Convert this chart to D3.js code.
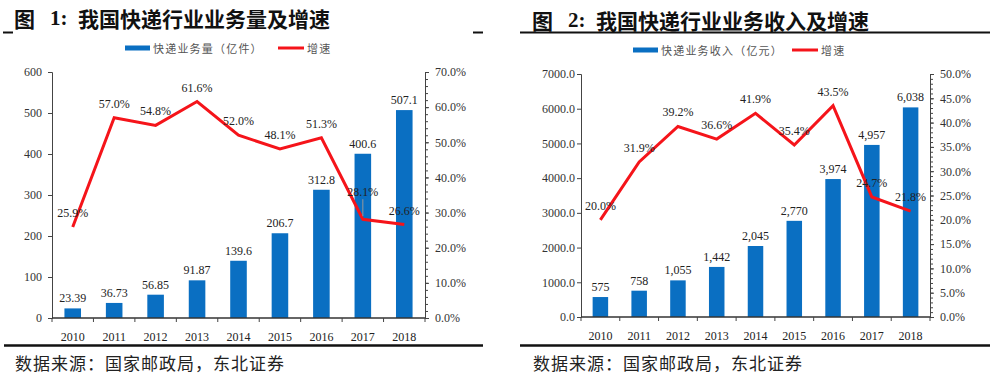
<!DOCTYPE html>
<html>
<head>
<meta charset="utf-8">
<script src="https://cdn.jsdelivr.net/npm/d3@7"></script>
<style>
  body { margin: 0; background: #fff; }
  svg { display: block; }
</style>
</head>
<body>
<svg id="chart"></svg>
<script>
// 数据
let years = ['2010', '2011', '2012', '2013', '2014', '2015', '2016', '2017', '2018'];
let volume = [23.39, 36.73, 56.85, 91.87, 139.6, 206.7, 312.8, 400.6, 507.1];
let volumeGrowth = [25.9, 57.0, 54.8, 61.6, 52.0, 48.1, 51.3, 28.1, 26.6];
let revenue = [575, 758, 1055, 1442, 2045, 2770, 3974, 4957, 6038];
let revenueGrowth = [20.0, 31.9, 39.2, 36.6, 41.9, 35.4, 43.5, 24.7, 21.8];
// 刻度
let volumeTicks = [0, 100, 200, 300, 400, 500, 600];
let volumePctTicks = [0, 10, 20, 30, 40, 50, 60, 70];
let revenueTicks = [0, 1000, 2000, 3000, 4000, 5000, 6000, 7000];
let revenuePctTicks = [0, 5, 10, 15, 20, 25, 30, 35, 40, 45, 50];

let W = 1004, H = 373;
let blue = '#0a6fc2', red = '#f5141a';
let serif = '"Liberation Serif", "DejaVu Serif", serif';
let cjk = '"Noto Sans CJK SC", sans-serif';

let svg = d3.select('#chart').attr('width', W).attr('height', H);
svg.append('rect').attr('width', W).attr('height', H).attr('fill', '#fff');

function drawChart(o) {
    let g = svg.append('g');

    // 标题
    let t = g.append('text').attr('y', o.titleY).attr('dominant-baseline', 'central')
        .attr('font-size', 21).attr('font-weight', 'bold').attr('fill', '#111');
    t.append('tspan').attr('x', o.titleX).attr('font-family', cjk).text('图');
    t.append('tspan').attr('x', o.titleX + 36).attr('font-family', serif).text(o.num + ':');
    t.append('tspan').attr('x', o.titleX + 64).attr('font-family', cjk).text(o.title);

    // 上下分隔线
    o.topRules.forEach(r => {
        g.append('line').attr('x1', r[0]).attr('x2', r[1]).attr('y1', 32.5).attr('y2', 32.5)
            .attr('stroke', '#111').attr('stroke-width', 2);
    });
    g.append('line').attr('x1', o.ruleX[0]).attr('x2', o.ruleX[1]).attr('y1', 345.5).attr('y2', 345.5)
        .attr('stroke', '#111').attr('stroke-width', 2.5);
    g.append('text').attr('x', o.titleX + 1).attr('y', 362).attr('dominant-baseline', 'central')
        .attr('font-family', cjk).attr('font-size', 17).attr('letter-spacing', 1).attr('fill', '#222')
        .text('数据来源：国家邮政局，东北证券');

    // 图例
    let lg = g.append('g').attr('font-family', cjk).attr('font-size', 11).attr('fill', '#555');
    lg.append('rect').attr('x', o.legendX).attr('y', o.legendY - 2.5).attr('width', 25).attr('height', 5).attr('fill', blue);
    lg.append('text').attr('x', o.legendX + 28).attr('y', o.legendY).attr('dominant-baseline', 'central')
        .attr('letter-spacing', 1.2).text(o.barName);
    lg.append('line').attr('x1', o.legendX2).attr('x2', o.legendX2 + 26).attr('y1', o.legendY).attr('y2', o.legendY)
        .attr('stroke', red).attr('stroke-width', 3);
    lg.append('text').attr('x', o.legendX2 + 29).attr('y', o.legendY).attr('dominant-baseline', 'central')
        .attr('letter-spacing', 1.2).text('增速');

    // 比例尺
    let x = d3.scaleBand().domain(years).range([o.x0, o.x1]).paddingInner(0.6).paddingOuter(0.3);
    let y = d3.scaleLinear().domain([0, d3.max(o.ticks)]).range([o.bottom, o.top]);
    let y2 = d3.scaleLinear().domain([0, d3.max(o.pctTicks)]).range([o.bottom, o.top]);
    let step = x.step();

    // 柱状
    g.selectAll('rect.bar').data(o.values).enter().append('rect').attr('class', 'bar')
        .attr('x', (d, i) => x(years[i]))
        .attr('y', d => y(d))
        .attr('width', x.bandwidth())
        .attr('height', d => o.bottom - y(d))
        .attr('fill', blue);
    g.selectAll('text.barlab').data(o.values).enter().append('text').attr('class', 'barlab')
        .attr('x', (d, i) => x(years[i]) + x.bandwidth() / 2)
        .attr('y', d => y(d) - 10)
        .attr('text-anchor', 'middle').attr('dominant-baseline', 'central')
        .attr('font-family', serif).attr('font-size', 12).attr('fill', '#222')
        .text(d => o.barFmt(d));

    // 左轴
    let axL = g.append('g').attr('transform', 'translate(' + o.x0 + ',0)')
        .call(d3.axisLeft(y).tickValues(o.ticks).tickFormat(o.tickFmt).tickSizeOuter(0).tickSize(4).tickPadding(o.padL));
    // 右轴
    let minor = d3.range(0, d3.max(o.pctTicks) + 0.001, o.minorStep);
    g.append('g').attr('transform', 'translate(' + o.x1 + ',0)')
        .call(d3.axisRight(y2).tickValues(minor).tickFormat('').tickSizeOuter(0).tickSize(3));
    let axR = g.append('g').attr('transform', 'translate(' + o.x1 + ',0)')
        .call(d3.axisRight(y2).tickValues(o.pctTicks).tickFormat(d => d3.format('.1f')(d) + '%').tickSizeOuter(0).tickSize(4).tickPadding(o.padR));
    [axL, axR].forEach(a => {
        a.select('.domain').attr('stroke', '#444');
        a.selectAll('.tick line').attr('stroke', '#444');
        a.selectAll('text').attr('font-family', serif).attr('font-size', 12).attr('fill', '#333');
    });
    g.selectAll('.tick line').attr('stroke', '#444');
    g.selectAll('.domain').attr('stroke', '#444');

    // 底轴
    let axB = g.append('g').attr('transform', 'translate(0,' + o.bottom + ')')
        .call(d3.axisBottom(x).tickSize(0).tickPadding(14));
    axB.select('.domain').remove();
    axB.selectAll('text').attr('font-family', serif).attr('font-size', 12).attr('fill', '#222');
    g.append('line').attr('x1', o.x0).attr('x2', o.x1).attr('y1', o.bottom).attr('y2', o.bottom)
        .attr('stroke', '#333').attr('stroke-width', 1.5);
    g.selectAll('line.xt').data(d3.range(years.length + 1)).enter().append('line').attr('class', 'xt')
        .attr('x1', i => o.x0 + i * step).attr('x2', i => o.x0 + i * step)
        .attr('y1', o.bottom).attr('y2', o.bottom + 4).attr('stroke', '#444');

    // 增速折线
    let line = d3.line().x((d, i) => x(years[i]) + x.bandwidth() / 2).y(d => y2(d));
    g.append('path').datum(o.growth).attr('d', line).attr('fill', 'none')
        .attr('stroke', red).attr('stroke-width', 3).attr('stroke-linejoin', 'miter');
    g.selectAll('text.pct').data(o.growth).enter().append('text').attr('class', 'pct')
        .attr('x', (d, i) => x(years[i]) + x.bandwidth() / 2)
        .attr('y', (d, i) => y2(d) - (i === o.liftIndex ? 27 : 14))
        .attr('text-anchor', 'middle').attr('dominant-baseline', 'central')
        .attr('font-family', serif).attr('font-size', 12).attr('fill', '#222')
        .text(d => d3.format('.1f')(d) + '%');
    if (o.liftIndex != null) {
        let cx = x(years[o.liftIndex]) + x.bandwidth() / 2;
        let cy = y2(o.growth[o.liftIndex]);
        g.append('line').attr('x1', cx).attr('x2', cx).attr('y1', cy - 20).attr('y2', cy - 3)
            .attr('stroke', '#999').attr('stroke-width', 1);
    }
}

drawChart({
    num: '1', title: '我国快递行业业务量及增速', titleX: 14, titleY: 18,
    topRules: [[3, 13], [473, 483]], ruleX: [4, 483],
    legendX: 125, legendX2: 278, legendY: 48, barName: '快递业务量（亿件）',
    x0: 52, x1: 425, top: 72, bottom: 318,
    values: volume, growth: volumeGrowth, ticks: volumeTicks, pctTicks: volumePctTicks,
    barFmt: d3.format('.4r'), tickFmt: d3.format('d'), minorStep: 2,
    padL: 6, padR: 6, liftIndex: 7
});
drawChart({
    num: '2', title: '我国快递行业业务收入及增速', titleX: 532, titleY: 20,
    topRules: [[520, 990]], ruleX: [520, 990],
    legendX: 633, legendX2: 792, legendY: 50, barName: '快递业务收入（亿元）',
    x0: 581, x1: 930, top: 74, bottom: 317,
    values: revenue, growth: revenueGrowth, ticks: revenueTicks, pctTicks: revenuePctTicks,
    barFmt: d3.format(','), tickFmt: d3.format('.1f'), minorStep: 1,
    padL: 2, padR: 6, liftIndex: null
});
</script>
</body>
</html>
